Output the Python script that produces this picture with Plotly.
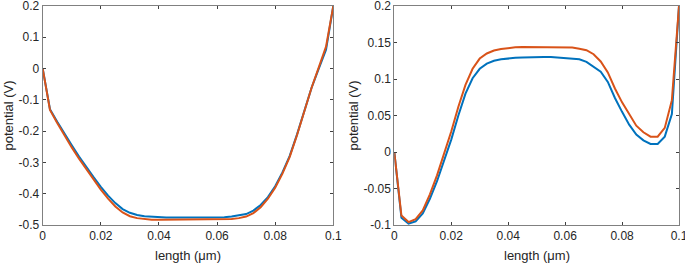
import plotly.graph_objects as go
from plotly.subplots import make_subplots

x_um = [i * 0.0025 for i in range(41)]

left_blue = [0, -0.130, -0.170, -0.209, -0.245, -0.281, -0.315, -0.347, -0.378, -0.406,
             -0.430, -0.449, -0.461, -0.468, -0.472, -0.474, -0.475, -0.476, -0.476, -0.476,
             -0.476, -0.476, -0.476, -0.476, -0.476, -0.475, -0.473, -0.470, -0.465, -0.454,
             -0.436, -0.411, -0.376, -0.332, -0.279, -0.211, -0.137, -0.062, 0.0, 0.060, 0.2]
left_orange = [0, -0.132, -0.174, -0.215, -0.252, -0.288, -0.322, -0.355, -0.387, -0.416,
               -0.441, -0.460, -0.472, -0.478, -0.481, -0.483, -0.483, -0.483, -0.483, -0.483,
               -0.483, -0.483, -0.483, -0.483, -0.483, -0.482, -0.481, -0.478, -0.473, -0.462,
               -0.443, -0.416, -0.381, -0.336, -0.282, -0.213, -0.137, -0.062, 0.004, 0.070, 0.2]

right_blue = [0, -0.090, -0.098, -0.095, -0.084, -0.064, -0.040, -0.013, 0.017, 0.050,
              0.080, 0.101, 0.114, 0.121, 0.125, 0.127, 0.1285, 0.129, 0.1295, 0.130,
              0.130, 0.130, 0.130, 0.1295, 0.129, 0.1285, 0.127, 0.1235, 0.117, 0.110,
              0.096, 0.074, 0.055, 0.0375, 0.024, 0.016, 0.011, 0.011, 0.021, 0.052, 0.2]
right_orange = [0, -0.087, -0.096, -0.092, -0.080, -0.058, -0.032, -0.003, 0.028, 0.062,
                0.092, 0.114, 0.128, 0.135, 0.139, 0.141, 0.1425, 0.1435, 0.144, 0.144,
                0.144, 0.144, 0.144, 0.144, 0.1435, 0.143, 0.1415, 0.1395, 0.134, 0.124,
                0.109, 0.087, 0.068, 0.051, 0.036, 0.027, 0.021, 0.021, 0.033, 0.071, 0.2]

x_ticks = [0, 0.02, 0.04, 0.06, 0.08, 0.1]
x_ticktext = ["0", "0.02", "0.04", "0.06", "0.08", "0.1"]
left_yticks = [0.2, 0.1, 0, -0.1, -0.2, -0.3, -0.4, -0.5]
left_yticktext = ["0.2", "0.1", "0", "-0.1", "-0.2", "-0.3", "-0.4", "-0.5"]
right_yticks = [0.2, 0.15, 0.1, 0.05, 0, -0.05, -0.1]
right_yticktext = ["0.2", "0.15", "0.1", "0.05", "0", "-0.05", "-0.1"]

BLUE = "#0072BD"
ORANGE = "#D95319"
FONT = "Liberation Sans, Arial, sans-serif"
EPS = 1e-7

fig = make_subplots(rows=1, cols=2)
fig.add_trace(go.Scatter(x=x_um, y=left_blue, mode="lines", line=dict(color=BLUE, width=2)), 1, 1)
fig.add_trace(go.Scatter(x=x_um, y=left_orange, mode="lines", line=dict(color=ORANGE, width=2)), 1, 1)
fig.add_trace(go.Scatter(x=x_um, y=right_blue, mode="lines", line=dict(color=BLUE, width=2)), 1, 2)
fig.add_trace(go.Scatter(x=x_um, y=right_orange, mode="lines", line=dict(color=ORANGE, width=2)), 1, 2)

W, H = 685, 263
T, B = 6, 38
PH = H - T - B
axis_common = dict(showgrid=False, zeroline=False, showline=True, linecolor="#808080", linewidth=1,
                   mirror="ticks", ticks="inside", ticklen=3, tickcolor="#404040",
                   ticklabeloverflow="allow", automargin=False,
                   tickfont=dict(family=FONT, size=12, color="#262626"))

fig.update_xaxes(range=[-EPS, 0.1 + EPS], tickvals=x_ticks, ticktext=x_ticktext, **axis_common)
fig.update_xaxes(domain=[42.7 / W, 333.3 / W], row=1, col=1)
fig.update_xaxes(domain=[394.3 / W, 679 / W], row=1, col=2)
fig.update_yaxes(**axis_common)
fig.update_yaxes(range=[-0.5 - EPS, 0.2 + EPS], tickvals=left_yticks, ticktext=left_yticktext, row=1, col=1)
fig.update_yaxes(range=[-0.1 - EPS, 0.2 + EPS], tickvals=right_yticks, ticktext=right_yticktext, row=1, col=2)

annotations = []
for cx in [(42.7 + 333.3) / 2, (394.3 + 679) / 2]:
    annotations.append(dict(text="length (μm)", x=cx / W, y=-30 / PH, xref="paper", yref="paper",
                            showarrow=False, xanchor="center", yanchor="middle",
                            font=dict(family=FONT, size=13, color="#262626")))
for cx in [8, 353]:
    annotations.append(dict(text="potential (V)", x=cx / W, y=0.5, xref="paper", yref="paper",
                            showarrow=False, textangle=-90, xanchor="center", yanchor="middle",
                            font=dict(family=FONT, size=13, color="#262626")))

fig.update_layout(width=W, height=H, autosize=False, margin=dict(l=0, r=0, t=T, b=B, autoexpand=False),
                  showlegend=False, plot_bgcolor="white", paper_bgcolor="white",
                  annotations=annotations)

post = (
    "document.body.style.margin='0';"
    "document.body.style.overflow='hidden';"
)
fig.write_html("out.html", config={"displayModeBar": False, "responsive": False},
               post_script=post)
